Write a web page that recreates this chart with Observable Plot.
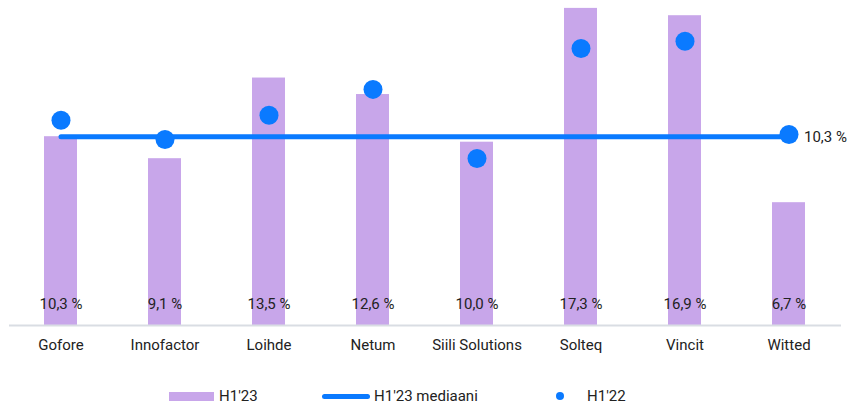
<!DOCTYPE html>
<html>
<head>
<meta charset="utf-8">
<script src="https://cdn.jsdelivr.net/npm/d3@7"></script>
<script src="https://cdn.jsdelivr.net/npm/@observablehq/plot@0.6"></script>
<style>
  html, body { margin: 0; padding: 0; background: #fff; }
  body { width: 849px; height: 406px; overflow: hidden; font-family: Roboto, "Open Sans", sans-serif; }
  #legend { position: relative; height: 36px; width: 849px; font-size: 15px; color: #222; }
  #legend .item { position: absolute; top: 17px; display: flex; align-items: center; height: 18px; }
</style>
</head>
<body>
<div id="chart"></div>
<div id="legend"></div>
<script>
const companies = ["Gofore", "Innofactor", "Loihde", "Netum", "Siili Solutions", "Solteq", "Vincit", "Witted"];
const h123 = [10.3, 9.1, 13.5, 12.6, 10.0, 17.3, 16.9, 6.7];
const h122 = [11.2, 10.15, 11.47, 12.88, 9.11, 15.11, 15.51, 10.42];
const median = 10.3;
const seriesNames = ["H1'23", "H1'23 mediaani", "H1'22"];

const purple = "#c8a6ea";
const blue = "#0a7aff";
const fmt = v => v.toFixed(1).replace(".", ",") + " %";
const font = "Roboto, 'Open Sans', sans-serif";

const rows = companies.map((c, i) => ({company: c, h123: h123[i], h122: h122[i]}));
const medianRows = [companies[0], companies[companies.length - 1]].map(c => ({company: c, value: median}));

const chart = Plot.plot({
  width: 849,
  height: 370,
  marginLeft: 9,
  marginRight: 8,
  marginTop: 0,
  marginBottom: 45,
  style: {fontFamily: font, fontSize: "15px", color: "#222", overflow: "visible"},
  x: {domain: companies, paddingInner: 0.68, paddingOuter: 0.34, axis: null},
  y: {domain: [0, 17.73], axis: null},
  marks: [
    Plot.barY(rows, {x: "company", y: "h123", fill: purple}),
    Plot.ruleY([0], {stroke: "#d9dde3", strokeWidth: 2}),
    Plot.axisX({tickSize: 0, tickPadding: 14, fontSize: 15, label: null, fill: "#222"}),
    Plot.line(medianRows, {x: "company", y: "value", stroke: blue, strokeWidth: 5, strokeLinecap: "round"}),
    Plot.dot(rows, {x: "company", y: "h122", r: 9.5, fill: blue}),
    Plot.text(rows, {x: "company", y: 0, text: d => fmt(d.h123), dy: -21, fontSize: 15, fill: "#222"}),
    Plot.text(medianRows.slice(1), {x: "company", y: "value", text: d => fmt(d.value), dx: 15, textAnchor: "start", fontSize: 15, fill: "#222"})
  ]
});
document.getElementById("chart").appendChild(chart);

const legend = document.getElementById("legend");
const items = [
  {left: 169, sw: `<span style="display:inline-block;width:45px;height:9px;background:${purple}"></span>`, gap: 5},
  {left: 322, sw: `<span style="display:inline-block;width:48px;height:5px;border-radius:3px;background:${blue}"></span>`, gap: 4},
  {left: 556, sw: `<span style="display:inline-block;width:8px;height:8px;border-radius:50%;background:${blue}"></span>`, gap: 23}
];
items.forEach((it, i) => {
  const d = document.createElement("div");
  d.className = "item";
  d.style.left = it.left + "px";
  d.innerHTML = it.sw + `<span style="margin-left:${it.gap}px">${seriesNames[i]}</span>`;
  legend.appendChild(d);
});
</script>
</body>
</html>
